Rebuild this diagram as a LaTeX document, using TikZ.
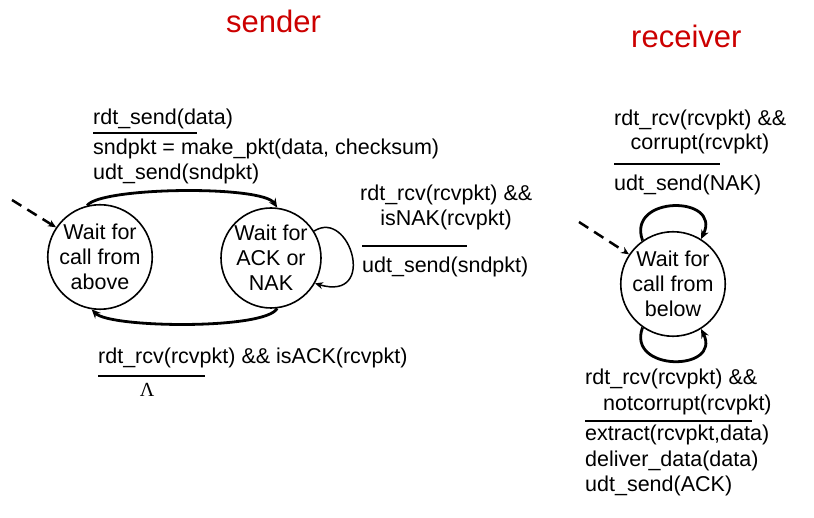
\documentclass[tikz,border=0pt]{standalone}
\usepackage{fontspec}
\setmainfont{Liberation Sans}
\newfontfamily\lamfont{Liberation Serif}
\usetikzlibrary{arrows.meta}
\definecolor{titlered}{RGB}{204,0,0}
\begin{document}
\begin{tikzpicture}[x=1pt,y=-1pt,
  txt/.style={anchor=base west,inner sep=0pt,font=\fontsize{21.5}{24.5}\selectfont},
  ctxt/.style={anchor=base,inner sep=0pt,font=\fontsize{21.5}{24.5}\selectfont},
  title/.style={anchor=base west,inner sep=0pt,text=titlered,font=\fontsize{31}{36}\selectfont},
  state/.style={circle,draw,line width=1.6pt,minimum size=100pt,inner sep=0pt,align=center,font=\fontsize{21.5}{25}\selectfont},
  rulebar/.style={line width=2.8pt},
  tr/.style={line width=2.8pt,-{Stealth[length=9pt,width=8pt]}},
  thinloop/.style={line width=1.5pt,-{Stealth[length=8pt,width=7pt]}},
  initarrow/.style={line width=2.5pt,dash pattern=on 11pt off 7pt,-{Stealth[length=8pt,width=7pt]}}
]
\useasboundingbox (0,0) rectangle (814,518);

% titles
\node[title] (tsend) at (226,33) {sender};
\node[title] (trecv) at (631,48) {receiver};

% sender states
\node[state] (s1) at (100,257) {Wait for\\call from\\above};
\node[state] (s2) at (271,258) {Wait for\\ACK or\\NAK};

% receiver state
\node[state,minimum size=96pt] (r1) at (673,284) {Wait for\\call from\\below};

% initial arrows
\coordinate (d1) at (12,200);
\coordinate (d2) at (579,222);
\draw[initarrow] (d1) -- (s1.146);
\draw[initarrow] (d2) -- (r1.146);

% sender transitions
\draw[tr] (s1.104) .. controls (100,187) and (262,185) .. (s2.83);
\draw[tr] (s2.-83) .. controls (265,330) and (110,328) .. (s1.-99);
\draw[thinloop] (s2.32) .. controls (350,208) and (378,302) .. (s2.-30);

% receiver transitions
\draw[tr] (r1.125) .. controls (626,195) and (722,195) .. (r1.58);
\draw[tr] (r1.-125) .. controls (626,372) and (722,372) .. (r1.-58);

% sender labels: rdt_send
\node[txt] (l1a) at (93,125) {rdt\_send(data)};
\draw[rulebar] (93,133) -- (197,133);
\node[txt] (l1b) at (93,155) {sndpkt = make\_pkt(data, checksum)};
\node[txt] (l1c) at (93,180) {udt\_send(sndpkt)};

% sender self loop label
\node[txt] (l2a) at (360,201) {rdt\_rcv(rcvpkt) \&\&};
\node[ctxt] (l2b) at (446,226) {isNAK(rcvpkt)};
\draw[rulebar] (362,246) -- (467,246);
\node[txt] (l2c) at (362,273) {udt\_send(sndpkt)};

% sender ACK label
\node[txt] (l3a) at (98,364) {rdt\_rcv(rcvpkt) \&\& isACK(rcvpkt)};
\draw[rulebar] (98,376) -- (205,376);
\node[ctxt,font=\lamfont\fontsize{20}{22}\selectfont] (l3b) at (147,397) {Λ};

% receiver corrupt label
\node[txt] (m1a) at (614,126) {rdt\_rcv(rcvpkt) \&\&};
\node[ctxt] (m1b) at (700,150) {corrupt(rcvpkt)};
\draw[rulebar] (614,164) -- (720,164);
\node[txt] (m1c) at (614,191) {udt\_send(NAK)};

% receiver notcorrupt label
\node[txt] (m2a) at (585,385) {rdt\_rcv(rcvpkt) \&\&};
\node[txt] (m2b) at (603,410) {notcorrupt(rcvpkt)};
\draw[rulebar] (585,421) -- (752,421);
\node[txt] (m2c) at (585,441) {extract(rcvpkt,data)};
\node[txt] (m2d) at (585,466) {deliver\_data(data)};
\node[txt] (m2e) at (585,491) {udt\_send(ACK)};
\end{tikzpicture}
\end{document}
